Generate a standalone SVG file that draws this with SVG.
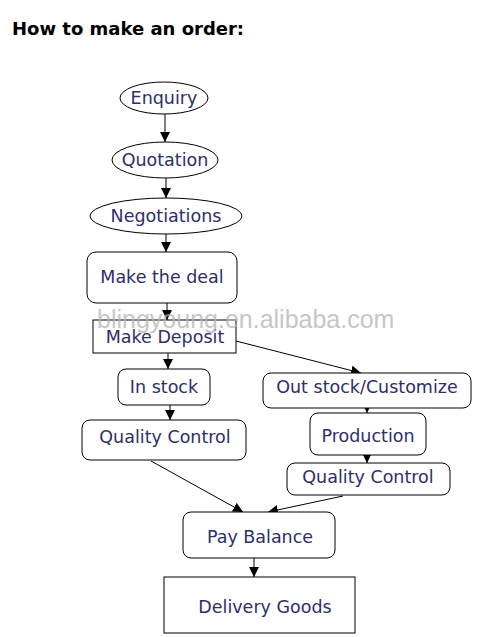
<svg xmlns="http://www.w3.org/2000/svg" width="490" height="637" viewBox="0 0 490 637">
<defs>
<marker id="ah" viewBox="0 0 10 10" refX="10" refY="5" markerWidth="10" markerHeight="10" markerUnits="userSpaceOnUse" orient="auto">
<path d="M0,0 L10,5 L0,10 Z" fill="#000"/>
</marker>
</defs>
<style>
.shape{fill:#fff;stroke:#000;stroke-width:1}
.lbl{font-family:"DejaVu Sans",Verdana,sans-serif;font-size:17.5px;fill:#2e2e6a;text-anchor:middle}
.conn{stroke:#000;stroke-width:1;fill:none;marker-end:url(#ah)}
.title{font-family:"DejaVu Sans",Verdana,sans-serif;font-weight:bold;font-size:18px;fill:#000}
.wm{font-family:"Liberation Sans",Arial,sans-serif;font-size:25px;fill:#b4b4b4;opacity:0.75}
</style>
<rect width="490" height="637" fill="#fff"/>
<text class="title" x="12" y="35">How to make an order:</text>

<g id="connectors">
<line class="conn" x1="165" y1="110" x2="165" y2="142"/>
<line class="conn" x1="166" y1="178" x2="166" y2="198"/>
<line class="conn" x1="166" y1="234" x2="166" y2="252"/>
<line class="conn" x1="167" y1="303" x2="167" y2="320"/>
<line class="conn" x1="236" y1="341" x2="361" y2="373"/>
<line class="conn" x1="168" y1="353" x2="168" y2="369"/>
<line class="conn" x1="170" y1="405" x2="170" y2="420"/>
<line class="conn" x1="367" y1="406" x2="367" y2="413"/>
<line class="conn" x1="367" y1="453" x2="367" y2="463"/>
<line class="conn" x1="151" y1="461" x2="243" y2="512"/>
<line class="conn" x1="343" y1="496" x2="268" y2="512"/>
<line class="conn" x1="254" y1="558" x2="254" y2="577"/>
</g>

<g id="enquiry"><ellipse class="shape" cx="164" cy="98" rx="44" ry="16"/><text class="lbl" x="164" y="104">Enquiry</text></g>
<g id="quotation"><ellipse class="shape" cx="165" cy="160" rx="53" ry="18"/><text class="lbl" x="165" y="166">Quotation</text></g>
<g id="negotiations"><ellipse class="shape" cx="166" cy="216" rx="76" ry="18"/><text class="lbl" x="166" y="222">Negotiations</text></g>
<g id="make-deal"><rect class="shape" x="87" y="252" width="150" height="51" rx="9"/><text class="lbl" x="162" y="283">Make the deal</text></g>
<g id="make-deposit"><rect class="shape" x="93" y="320" width="143" height="33"/><text class="lbl" x="165" y="343">Make Deposit</text></g>
<g id="in-stock"><rect class="shape" x="118" y="369" width="92" height="36" rx="8"/><text class="lbl" x="164" y="393">In stock</text></g>
<g id="out-stock"><rect class="shape" x="263" y="373" width="208" height="35" rx="8"/><text class="lbl" x="367" y="393">Out stock/Customize</text></g>
<g id="qc-left"><rect class="shape" x="82" y="420" width="164" height="40" rx="8"/><text class="lbl" x="165" y="443">Quality Control</text></g>
<g id="production"><rect class="shape" x="310" y="413" width="116" height="42" rx="8"/><text class="lbl" x="368" y="442">Production</text></g>
<g id="qc-right"><rect class="shape" x="287" y="463" width="163" height="32" rx="8"/><text class="lbl" x="368" y="483">Quality Control</text></g>
<g id="pay-balance"><rect class="shape" x="183" y="512" width="152" height="46" rx="8"/><text class="lbl" x="260" y="543">Pay Balance</text></g>
<g id="delivery"><rect class="shape" x="164" y="577" width="191" height="56"/><text class="lbl" x="265" y="613">Delivery Goods</text></g>

<text class="wm" x="97" y="328">blingyoung.en.alibaba.com</text>
</svg>
